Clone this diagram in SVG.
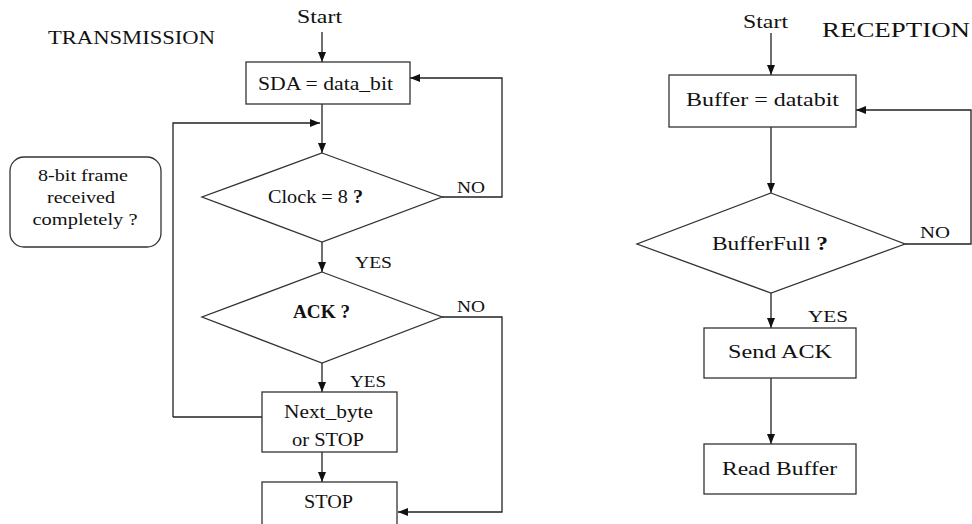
<svg xmlns="http://www.w3.org/2000/svg" width="972" height="524" viewBox="0 0 972 524" font-family="'Liberation Serif', 'DejaVu Serif', serif">
<defs>
<style>
text{font-family:'Liberation Serif','DejaVu Serif',serif;fill:#111;}
.box{fill:#fff;stroke:#333;stroke-width:1.3;}
.ln{fill:none;stroke:#222;stroke-width:1.3;}
.arr{marker-end:url(#ah);}
.t18{font-size:18px;}
.t16{font-size:16px;}
.lbl{font-size:16px;}
</style>
<marker id="ah" viewBox="0 0 10 10" refX="10" refY="5" markerWidth="10" markerHeight="10" markerUnits="userSpaceOnUse" orient="auto">
<path d="M0,1 L10,5 L0,9 Z" fill="#111"/>
</marker>
</defs>
<rect width="972" height="524" fill="#fff"/>

<text x="48" y="44" font-size="19" textLength="167" lengthAdjust="spacingAndGlyphs">TRANSMISSION</text>
<text x="297" y="23" class="t18" textLength="45" lengthAdjust="spacingAndGlyphs">Start</text>
<text x="822" y="37" font-size="22" textLength="148" lengthAdjust="spacingAndGlyphs">RECEPTION</text>
<text x="743" y="28" class="t18" textLength="45" lengthAdjust="spacingAndGlyphs">Start</text>

<g id="connectors">
<path class="ln arr" d="M322,32 L322,62"/>
<path class="ln arr" d="M322,104 L322,153"/>
<path class="ln arr" d="M173,417 L173,123 L320,123"/>
<path class="ln arr" d="M442,197 L502,197 L502,78 L410,78"/>
<path class="ln arr" d="M322,242 L322,272"/>
<path class="ln arr" d="M442,317 L502,317 L502,512 L398,512"/>
<path class="ln arr" d="M322,363 L322,392"/>
<path class="ln" d="M262,417 L173,417"/>
<path class="ln arr" d="M322,452 L322,482"/>

<path class="ln arr" d="M771,33 L771,75"/>
<path class="ln arr" d="M771,127 L771,193"/>
<path class="ln arr" d="M905,244 L971,244 L971,110 L856,110"/>
<path class="ln arr" d="M771,293 L771,328"/>
<path class="ln arr" d="M771,378 L771,444"/>
</g>

<g id="label-no1"><text x="457" y="193" class="lbl" textLength="28" lengthAdjust="spacingAndGlyphs">NO</text></g>
<g id="label-yes1"><text x="355" y="268" class="lbl" textLength="37" lengthAdjust="spacingAndGlyphs">YES</text></g>
<g id="label-no2"><text x="457" y="312" class="lbl" textLength="28" lengthAdjust="spacingAndGlyphs">NO</text></g>
<g id="label-yes2"><text x="350" y="387" class="lbl" textLength="36" lengthAdjust="spacingAndGlyphs">YES</text></g>
<g id="label-no3"><text x="920" y="238" class="lbl" textLength="30" lengthAdjust="spacingAndGlyphs">NO</text></g>
<g id="label-yes3"><text x="808" y="322" class="lbl" textLength="40" lengthAdjust="spacingAndGlyphs">YES</text></g>

<g id="sda">
<rect class="box" x="246" y="62" width="164" height="42"/>
<text x="258" y="90" class="t18" textLength="135" lengthAdjust="spacingAndGlyphs">SDA = data_bit</text>
</g>

<g id="note">
<rect class="box" x="10" y="157" width="151" height="90" rx="14"/>
<text x="83" y="181" class="t16" text-anchor="middle" textLength="90" lengthAdjust="spacingAndGlyphs">8-bit frame</text>
<text x="81" y="203" class="t16" text-anchor="middle" textLength="68" lengthAdjust="spacingAndGlyphs">received</text>
<text x="85" y="225" class="t16" text-anchor="middle" textLength="105" lengthAdjust="spacingAndGlyphs">completely ?</text>
</g>

<g id="clock">
<polygon class="box" points="322,153 442,197 322,242 202,197"/>
<text x="268" y="203" class="t18" textLength="95" lengthAdjust="spacingAndGlyphs">Clock = 8 <tspan font-weight="bold">?</tspan></text>
</g>

<g id="ack">
<polygon class="box" points="322,272 442,317 322,363 202,317"/>
<text x="293" y="318" class="t18" font-weight="bold" textLength="57" lengthAdjust="spacingAndGlyphs">ACK ?</text>
</g>

<g id="next">
<rect class="box" x="262" y="392" width="135" height="60"/>
<text x="284" y="418" class="t18" textLength="89" lengthAdjust="spacingAndGlyphs">Next_byte</text>
<text x="292" y="446" class="t18" textLength="72" lengthAdjust="spacingAndGlyphs">or STOP</text>
</g>

<g id="stop">
<rect class="box" x="262" y="482" width="135" height="50"/>
<text x="304" y="508" class="t18" textLength="49" lengthAdjust="spacingAndGlyphs">STOP</text>
</g>

<g id="buffer">
<rect class="box" x="669" y="75" width="187" height="52"/>
<text x="686" y="106" font-size="19" textLength="153" lengthAdjust="spacingAndGlyphs">Buffer = databit</text>
</g>

<g id="bufferfull">
<polygon class="box" points="771,193 905,244 771,293 637,244"/>
<text x="712" y="250" font-size="19" textLength="116" lengthAdjust="spacingAndGlyphs">BufferFull <tspan font-weight="bold">?</tspan></text>
</g>

<g id="sendack">
<rect class="box" x="704" y="328" width="152" height="50"/>
<text x="728" y="358" font-size="19" textLength="104" lengthAdjust="spacingAndGlyphs">Send ACK</text>
</g>

<g id="readbuffer">
<rect class="box" x="704" y="444" width="152" height="50"/>
<text x="722" y="475" font-size="19" textLength="115" lengthAdjust="spacingAndGlyphs">Read Buffer</text>
</g>
</svg>
